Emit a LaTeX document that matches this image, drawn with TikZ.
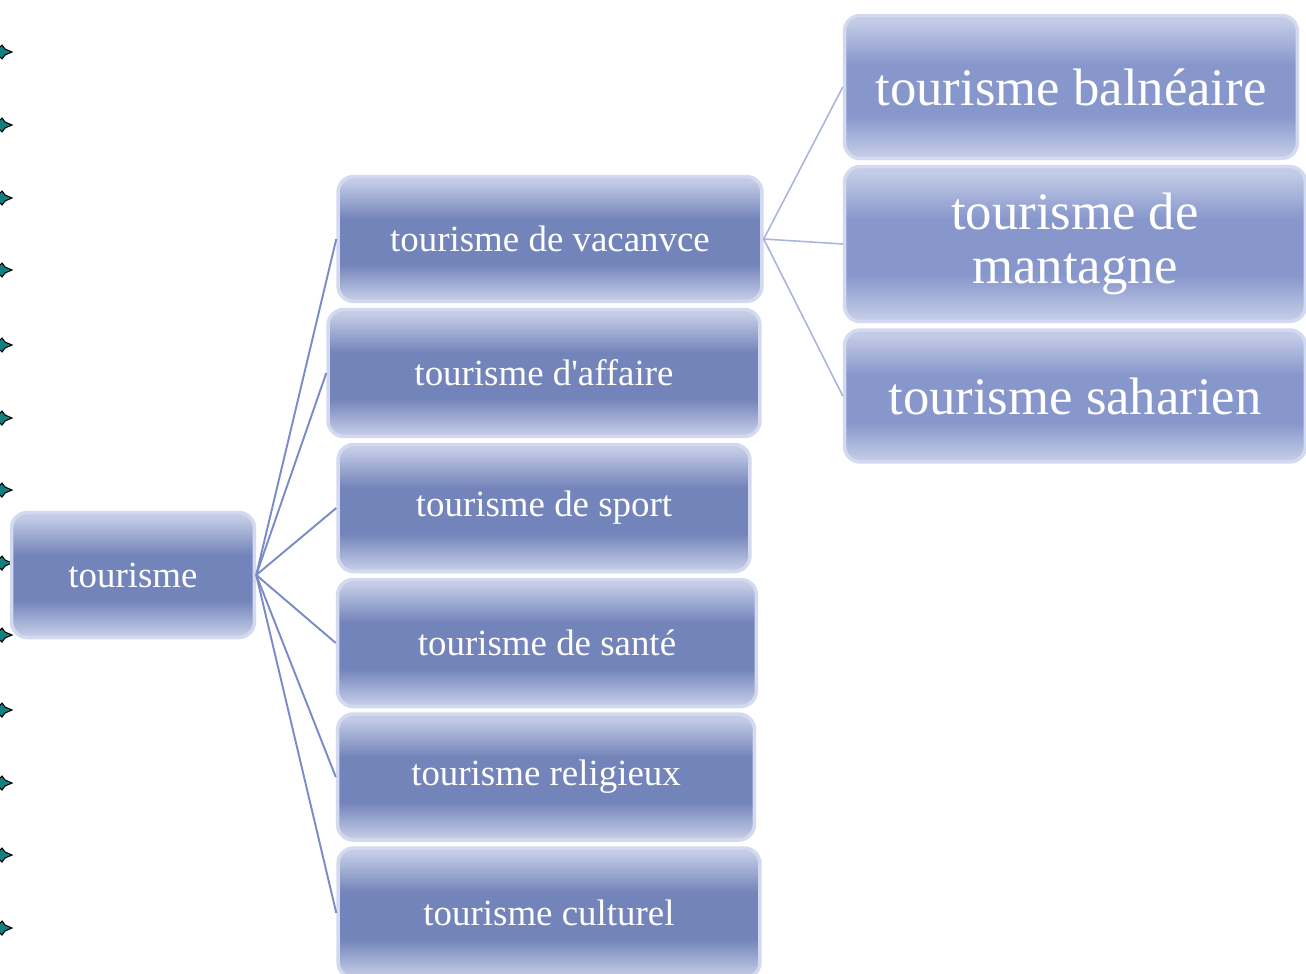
\documentclass[tikz,border=0pt]{standalone}
\usepackage{fontspec}
\setmainfont{Liberation Serif}
\definecolor{boxlight}{HTML}{C3CBE6}
\definecolor{boxdark}{HTML}{7384BA}
\definecolor{boxmid}{HTML}{8797CC}
\definecolor{boxrim}{HTML}{D3D9EF}
\definecolor{linkdark}{HTML}{7A8CC8}
\definecolor{linklight}{HTML}{A9B5DD}
\definecolor{bullet}{HTML}{138080}
\pgfdeclareverticalshading{boxshade}{100bp}{color(0bp)=(boxlight); color(26bp)=(boxlight);
  color(40bp)=(boxdark); color(58bp)=(boxdark); color(73bp)=(boxlight); color(100bp)=(boxlight)}
\pgfdeclareverticalshading{bigshade}{100bp}{color(0bp)=(boxlight); color(26bp)=(boxlight);
  color(40bp)=(boxmid); color(58bp)=(boxmid); color(73bp)=(boxlight); color(100bp)=(boxlight)}
\begin{document}
\begin{tikzpicture}[x=0.02cm,y=-0.02cm,
    box/.style={rectangle,rounded corners=9pt,draw=boxrim,line width=2pt,shading=boxshade,
      text=white,font=\fontsize{21}{25}\selectfont,inner sep=0pt},
    bigbox/.style={box,shading=bigshade,font=\fontsize{30}{31}\selectfont,align=center},
    link/.style={draw=linkdark,line width=1.1pt},
    sublink/.style={draw=linklight,line width=0.9pt}]
            \useasboundingbox (0,0) rectangle (1306,974);
            % Bullets
            \foreach \y in {52,125,198,270,345,418,490,563,635,710,783,855,928}
              \draw[fill=bullet,line width=0.6pt] (12,\y) -- (5,\y-3) -- (2,\y-7) -- (-1,\y-4)
                -- (-1,\y+4) -- (2,\y+7) -- (5,\y+3) -- cycle;
            % Nodes
            \node[box,minimum width=4.86cm,minimum height=2.5cm] (T) at (133,575){tourisme};
            \node[box,minimum width=8.48cm,minimum height=2.5cm] (V) at (550,239){tourisme de vacanvce};
            \node[box,minimum width=8.64cm,minimum height=2.54cm] (A) at (544,373){tourisme d\textquotesingle affaire};
            \node[box,minimum width=8.24cm,minimum height=2.54cm] (S) at (544,508){tourisme de sport};
            \node[box,minimum width=8.38cm,minimum height=2.54cm] (H) at (547,643){tourisme de santé};
            \node[box,minimum width=8.34cm,minimum height=2.52cm] (R) at (546,777){tourisme religieux};
            \node[box,minimum width=8.44cm,minimum height=2.6cm] (C) at (549,913){tourisme culturel};
            \node[bigbox,minimum width=9.06cm,minimum height=2.86cm] (B) at (1071,87){tourisme balnéaire};
            \node[bigbox,minimum width=9.22cm,minimum height=3.1cm] (M) at (1075,244){tourisme de\\mantagne};
            \node[bigbox,minimum width=9.22cm,minimum height=2.64cm] (Z) at (1075,396){tourisme saharien};
            % Edges
            \path[link] (T.east) to (V.west);
            \path[link] (T.east) to (A.west);
            \path[link] (T.east) to (S.west);
            \path[link] (T.east) to (H.west);
            \path[link] (T.east) to (R.west);
            \path[link] (T.east) to (C.west);
            \path[sublink] (V.east) to (B.west);
            \path[sublink] (V.east) to (M.west);
            \path[sublink] (V.east) to (Z.west);
        \end{tikzpicture}
\end{document}
